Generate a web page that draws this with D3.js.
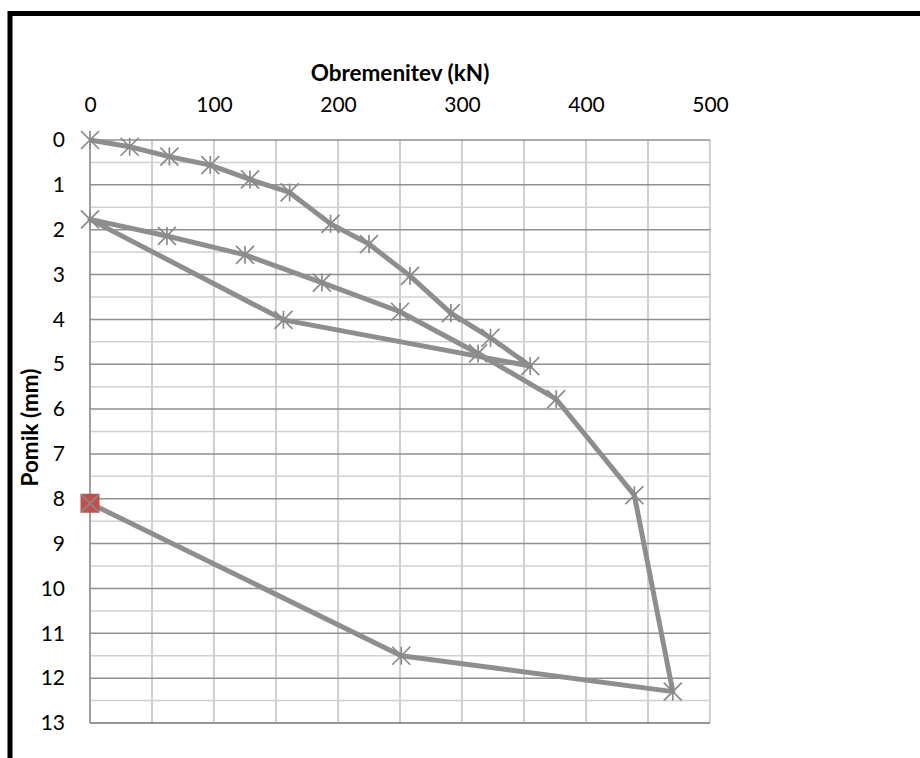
<!DOCTYPE html>
<html><head><meta charset="utf-8">
<script src="https://cdn.jsdelivr.net/npm/d3@7"></script>
<style>
html,body{margin:0;padding:0;background:#fff;}
svg{display:block;font-family:Carlito,Calibri,Lato,sans-serif;}
</style></head>
<body><svg id="c" width="920" height="758"></svg>
<script>
// Load test data: load (kN) vs displacement (mm), in test order
const loads = [0, 32, 64, 97, 129, 161, 194, 225, 258, 291, 323, 355, 156, 0, 62, 125, 187, 250, 313, 376, 439, 470, 251, 0];
const disps = [0, 0.15, 0.37, 0.56, 0.88, 1.17, 1.87, 2.32, 3.03, 3.86, 4.41, 5.04, 4.01, 1.77, 2.14, 2.56, 3.18, 3.83, 4.76, 5.78, 7.92, 12.3, 11.5, 8.1];
const xTicks = [0, 100, 200, 300, 400, 500];
const yTicks = [0,1,2,3,4,5,6,7,8,9,10,11,12,13];
const xTitle = "Obremenitev (kN)";
const yTitle = "Pomik (mm)";

const data = loads.map((v,i)=>({x:v, y:disps[i]}));
const svg = d3.select("#c");
const L=90, R=710, T=140, B=723;
const x = d3.scaleLinear().domain([0,500]).range([L,R]);
const y = d3.scaleLinear().domain([0,13]).range([T,B]);

// outer frame
svg.append("rect").attr("x",10).attr("y",13.5).attr("width",1000).attr("height",1000)
  .attr("fill","none").attr("stroke","#000").attr("stroke-width",5);

// grid
const g = svg.append("g");
g.selectAll(".vg").data(d3.range(0,501,50)).join("line")
  .attr("x1",d=>x(d)).attr("x2",d=>x(d)).attr("y1",T).attr("y2",B)
  .attr("stroke","#c0c0c0").attr("stroke-width",1.5);
g.selectAll(".hm").data(d3.range(0.5,13,1)).join("line")
  .attr("x1",L).attr("x2",R).attr("y1",d=>y(d)).attr("y2",d=>y(d))
  .attr("stroke","#d0d0d0").attr("stroke-width",1.5);
g.selectAll(".hM").data(yTicks).join("line")
  .attr("x1",L).attr("x2",R).attr("y1",d=>y(d)).attr("y2",d=>y(d))
  .attr("stroke","#8f8f8f").attr("stroke-width",1.5);
// axis lines
g.append("line").attr("x1",L).attr("x2",L).attr("y1",T).attr("y2",B).attr("stroke","#8f8f8f").attr("stroke-width",1.5);
g.append("line").attr("x1",L).attr("x2",R).attr("y1",B).attr("y2",B).attr("stroke","#8f8f8f").attr("stroke-width",1.5);

// axes labels via d3 axes
const xAxis = d3.axisTop(x).tickValues(xTicks).tickSize(0).tickPadding(0);
const ax = svg.append("g").attr("transform",`translate(0,${T-28})`).call(xAxis);
ax.select(".domain").remove();
ax.selectAll("text").attr("font-size",21).attr("fill","#000").attr("font-family","Lato,sans-serif");
const yAxis = d3.axisLeft(y).tickValues(yTicks).tickSize(0).tickPadding(0);
const ay = svg.append("g").attr("transform",`translate(${L-25},0)`).call(yAxis);
ay.select(".domain").remove();
ay.selectAll("text").attr("font-size",21).attr("fill","#000").attr("font-family","Lato,sans-serif");

svg.append("text").attr("x",x(250)).attr("y",81).attr("text-anchor","middle")
  .attr("font-weight","bold").attr("font-size",22.5).attr("font-family","Lato,sans-serif").text(xTitle);
svg.append("text").attr("transform",`translate(38,${(T+B)/2 - 4}) rotate(-90)`).attr("text-anchor","middle")
  .attr("font-weight","bold").attr("font-size",22.5).attr("font-family","Lato,sans-serif").text(yTitle);

// series line
const line = d3.line().x(d=>x(d.x)).y(d=>y(d.y));
svg.append("path").datum(data).attr("d",line).attr("fill","none")
  .attr("stroke","#8e8e8e").attr("stroke-width",5).attr("stroke-linejoin","round");

// markers
const s=9;
const star = `M${-s},${-s}L${s},${s}M${-s},${s}L${s},${-s}M0,${-s}L0,${s}`;
const last = data.length-1;
svg.selectAll(".sq").data([data[last]]).join("rect")
  .attr("x",d=>x(d.x)-9.5).attr("y",d=>y(d.y)-9.5).attr("width",19).attr("height",19)
  .attr("fill","#c0504d");
svg.selectAll(".mk").data(data).join("path")
  .attr("transform",d=>`translate(${x(d.x)},${y(d.y)})`)
  .attr("d",(d,i)=> i===last ? `M${-s},${-s}L${s},${s}M${-s},${s}L${s},${-s}` : star)
  .attr("stroke","#8a8a8a").attr("stroke-width",1.7).attr("fill","none");
</script></body></html>
